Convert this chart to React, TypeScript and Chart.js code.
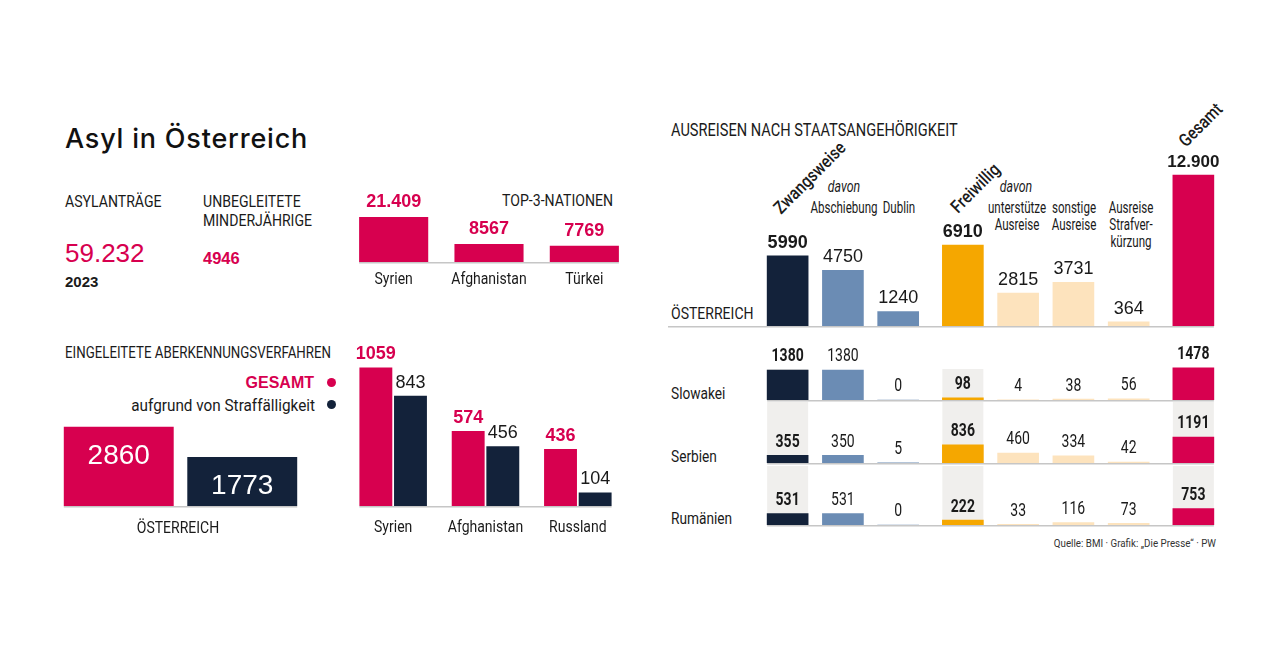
import React, { useEffect, useRef } from 'react';
import { Chart, registerables } from 'chart.js';

Chart.register(...registerables);

// ---------------- data ----------------
const asylantraegeTotal = 59232;
const asylYear = '2023';
const unbegleiteteMinderjaehrige = 4946;

const top3Countries = ['Syrien', 'Afghanistan', 'Türkei'];
const top3Values = [21409, 8567, 7769];

const aberkennungATLabels = ['GESAMT', 'aufgrund von Straffälligkeit'];
const aberkennungATValues = [2860, 1773];

const aberkennungCountries = ['Syrien', 'Afghanistan', 'Russland'];
const aberkennungGesamt = [1059, 574, 436];
const aberkennungStraf = [843, 456, 104];

const ausreiseCats = ['Zwangsweise', 'Abschiebung', 'Dublin', 'Freiwillig', 'unterstützte Ausreise', 'sonstige Ausreise', 'Ausreise Strafverkürzung', 'Gesamt'];
const ausreiseGroups = [0, 0, 0, 1, 1, 1, 1, 2];
const ausreiseAT = [5990, 4750, 1240, 6910, 2815, 3731, 364, 12900];
const rowCountries = ['Slowakei', 'Serbien', 'Rumänien'];
const ausreiseSlowakei = [1380, 1380, 0, 98, 4, 38, 56, 1478];
const ausreiseSerbien = [355, 350, 5, 836, 460, 334, 42, 1191];
const ausreiseRumaenien = [531, 531, 0, 222, 33, 116, 73, 753];

// ---------------- style ----------------
const C = {
  crimson: '#d7004f',
  navy: '#13223a',
  steel: '#6b8cb4',
  orange: '#f5a700',
  peach: '#fde3bd',
  bg: '#f0efed',
  text: '#1a1a1a',
  line: '#c6c6c6',
};
const colColors = [C.navy, C.steel, C.steel, C.orange, C.peach, C.peach, C.peach, C.crimson];
const boldCols = [0, 3, 7];
const COND = "Roboto, 'Noto Sans', sans-serif";
const NUM = "'Liberation Sans', Arial, sans-serif";
const TITLE = "Inter, 'Noto Sans', sans-serif";
const GROUP_GAP = 0.17;

const fmt = (v: number) => (v >= 10000 ? String(v).replace(/\B(?=(\d{3})+(?!\d))/g, '.') : String(v));
const colPos = (i: number) => i + ausreiseGroups[i] * GROUP_GAP;

type Annot = {
  labels?: { font: (d: number, i: number) => string; color: (d: number, i: number) => string; offset: number; inside?: boolean; k?: number };
  cats?: { texts: string[]; font: string; color: string; offset: number; k?: number };
  baseline?: { color: string; width: number; fromPx?: number };
  bg?: { cols: number[]; color: string; topPx: number };
};

const drawText = (ctx: CanvasRenderingContext2D, t: string, x: number, y: number, k = 1) => {
  const w = ctx.measureText(t).width;
  ctx.fillText(t, x, y, w * k);
};

const makeAnnot = (a: Annot) => ({
  id: 'annot',
  beforeDatasetsDraw(chart: any) {
    const ctx = chart.ctx;
    const metas = chart.getSortedVisibleDatasetMetas();
    const bottom = chart.scales.y.getPixelForValue(0);
    if (a.bg) {
      ctx.save();
      ctx.fillStyle = a.bg.color;
      const els = metas[0].data;
      for (const i of a.bg.cols) {
        const p = els[i].getProps(['x', 'width'], true);
        ctx.fillRect(p.x - p.width / 2, a.bg.topPx, p.width, bottom - a.bg.topPx);
      }
      ctx.restore();
    }
    if (a.baseline) {
      let minX = Infinity;
      let maxX = -Infinity;
      metas.forEach((m: any) =>
        m.data.forEach((el: any) => {
          const p = el.getProps(['x', 'width'], true);
          minX = Math.min(minX, p.x - p.width / 2);
          maxX = Math.max(maxX, p.x + p.width / 2);
        })
      );
      if (a.baseline.fromPx != null) minX = a.baseline.fromPx;
      ctx.save();
      ctx.strokeStyle = a.baseline.color;
      ctx.lineWidth = a.baseline.width;
      ctx.beginPath();
      ctx.moveTo(minX, bottom + a.baseline.width / 2);
      ctx.lineTo(maxX, bottom + a.baseline.width / 2);
      ctx.stroke();
      ctx.restore();
    }
  },
  afterDatasetsDraw(chart: any) {
    const ctx = chart.ctx;
    const bottom = chart.scales.y.getPixelForValue(0);
    ctx.save();
    ctx.textAlign = 'center';
    ctx.textBaseline = 'middle';
    if (a.labels) {
      const L = a.labels;
      chart.getSortedVisibleDatasetMetas().forEach((m: any) => {
        const d = m.index;
        m.data.forEach((el: any, i: number) => {
          const raw = chart.data.datasets[d].data[i];
          const v = typeof raw === 'object' ? raw.y : raw;
          const p = el.getProps(['x', 'y'], true);
          ctx.font = L.font(d, i);
          ctx.fillStyle = L.color(d, i);
          drawText(ctx, fmt(v), p.x, L.inside ? p.y + L.offset : p.y - L.offset, L.k ?? 1);
        });
      });
    }
    if (a.cats) {
      ctx.font = a.cats.font;
      ctx.fillStyle = a.cats.color;
      a.cats.texts.forEach((t, i) => {
        drawText(ctx, t, chart.scales.x.getPixelForValue(i), bottom + a.cats!.offset, a.cats!.k ?? 1);
      });
    }
    ctx.restore();
  },
});

const baseOptions = (padding: any, yMax: number, x: any = {}) => ({
  responsive: false,
  animation: false as const,
  layout: { padding },
  plugins: { legend: { display: false }, tooltip: { enabled: false } },
  scales: {
    x: { display: false, ...x },
    y: { display: false, min: 0, max: yMax },
  },
});

// ---------------- chart configs ----------------
const catFont = `16.5px ${COND}`;

const top3Config = () => ({
  type: 'bar',
  data: {
    labels: top3Countries,
    datasets: [{ data: top3Values, backgroundColor: C.crimson, barPercentage: 0.725, categoryPercentage: 1 }],
  },
  options: baseOptions({ top: 18, bottom: 33, left: 0, right: 0 }, 28000),
  plugins: [
    makeAnnot({
      labels: { font: () => `700 18px ${NUM}`, color: () => C.crimson, offset: 15 },
      cats: { texts: top3Countries, font: catFont, color: C.text, offset: 18, k: 0.85 },
      baseline: { color: C.line, width: 1.5 },
    }),
  ],
});

const aberkATConfig = () => ({
  type: 'bar',
  data: {
    labels: aberkennungATLabels,
    datasets: [{ data: aberkennungATValues, backgroundColor: [C.crimson, C.navy], barPercentage: 0.89, categoryPercentage: 1 }],
  },
  options: baseOptions({ top: 3, bottom: 34, left: 0, right: 0 }, 3000),
  plugins: [
    makeAnnot({
      labels: { font: () => `400 28px ${NUM}`, color: () => '#ffffff', offset: 29, inside: true },
      baseline: { color: C.line, width: 1.5 },
    }),
  ],
});

const aberkCountriesConfig = () => ({
  type: 'bar',
  data: {
    labels: aberkennungCountries,
    datasets: [
      { data: aberkennungGesamt, backgroundColor: C.crimson, barPercentage: 0.95, categoryPercentage: 0.75 },
      { data: aberkennungStraf, backgroundColor: C.navy, barPercentage: 0.95, categoryPercentage: 0.75 },
    ],
  },
  options: baseOptions({ top: 9, bottom: 34, left: 0, right: 0 }, 1200),
  plugins: [
    makeAnnot({
      labels: {
        font: (d) => (d === 0 ? `700 18px ${NUM}` : `400 18px ${NUM}`),
        color: (d) => (d === 0 ? C.crimson : C.text),
        offset: 13,
      },
      cats: { texts: aberkennungCountries, font: catFont, color: C.text, offset: 22, k: 0.85 },
      baseline: { color: C.line, width: 1.5 },
    }),
  ],
});

const ausreiseX = { type: 'linear', offset: false, min: -0.5, max: colPos(ausreiseCats.length - 1) + 0.5 };

const ausreiseATConfig = () => ({
  type: 'bar',
  data: {
    datasets: [
      {
        data: ausreiseAT.map((v, i) => ({ x: colPos(i), y: v })),
        backgroundColor: colColors,
        barThickness: 41,
      },
    ],
  },
  options: baseOptions({ top: 28, bottom: 9, left: 100, right: 0 }, 13500, ausreiseX),
  plugins: [
    makeAnnot({
      labels: {
        font: (_d, i) => (i === 7 ? `700 17px ${NUM}` : boldCols.includes(i) ? `700 18px ${NUM}` : `400 18px ${NUM}`),
        color: () => C.text,
        offset: 13,
      },
      baseline: { color: C.line, width: 1.5, fromPx: 8 },
    }),
  ],
});

const rowConfig = (values: number[], pad: { top: number; bottom: number }, bgTop: number) => () => ({
  type: 'bar',
  data: {
    datasets: [
      {
        data: values.map((v, i) => ({ x: colPos(i), y: v })),
        backgroundColor: colColors,
        barThickness: 41,
      },
    ],
  },
  options: baseOptions({ top: pad.top, bottom: pad.bottom, left: 0, right: 0 }, 2300, ausreiseX),
  plugins: [
    makeAnnot({
      labels: {
        font: (_d, i) => (boldCols.includes(i) ? `700 17.5px ${COND}` : `400 17.5px ${COND}`),
        color: () => C.text,
        offset: 13,
        k: 0.8,
      },
      baseline: { color: C.line, width: 1.5 },
      bg: { cols: boldCols, color: C.bg, topPx: bgTop },
    }),
  ],
});

// ---------------- components ----------------
function ChartBox({ left, top, width, height, config }: any) {
  const ref = useRef<HTMLCanvasElement>(null);
  useEffect(() => {
    const chart = new Chart(ref.current as HTMLCanvasElement, config() as any);
    return () => chart.destroy();
  }, []);
  return (
    <canvas
      ref={ref}
      width={width}
      height={height}
      style={{ position: 'absolute', left, top, width, height }}
    />
  );
}

function T({ x, y, a = 'l', k = 1, s, children }: any) {
  const tx = a === 'l' ? '0' : a === 'c' ? '-50%' : '-100%';
  const origin = a === 'l' ? 'left center' : a === 'c' ? 'center center' : 'right center';
  return (
    <div
      style={{
        position: 'absolute',
        left: x,
        top: y,
        transform: `translate(${tx},-50%) scaleX(${k})`,
        transformOrigin: origin,
        whiteSpace: 'nowrap',
        lineHeight: 1,
        color: C.text,
        fontFamily: COND,
        fontSize: 16,
        ...s,
      }}
    >
      {children}
    </div>
  );
}

function R({ x, y, k = 0.85, children }: any) {
  return (
    <div
      style={{
        position: 'absolute',
        left: x,
        top: y,
        transformOrigin: '0 0',
        transform: `rotate(-45deg) translateY(-84%) scaleX(${k})`,
        whiteSpace: 'nowrap',
        lineHeight: 1,
        color: C.text,
        fontFamily: COND,
        fontWeight: 500,
        fontSize: 18,
      }}
    >
      {children}
    </div>
  );
}

function Dot({ x, y, color }: any) {
  return (
    <div
      style={{
        position: 'absolute',
        left: x - 4.5,
        top: y - 4.5,
        width: 9,
        height: 9,
        borderRadius: 5,
        background: color,
      }}
    />
  );
}

export default function App() {
  const hdr = { fontSize: 16.5 };
  const rowLbl = { fontSize: 16.5 };
  return (
    <div style={{ position: 'absolute', left: 0, top: 0, width: 1280, height: 669, background: '#fff', overflow: 'hidden' }}>
      {/* left top */}
      <T x={65} y={137.5} s={{ fontFamily: TITLE, fontSize: 27, fontWeight: 500, letterSpacing: 0.8, color: '#111' }}>Asyl in Österreich</T>
      <T x={65} y={201.7} k={0.88}>ASYLANTRÄGE</T>
      <T x={65} y={252.5} s={{ fontFamily: NUM, fontSize: 26, color: C.crimson }}>{fmt(asylantraegeTotal)}</T>
      <T x={65} y={280.5} s={{ fontFamily: NUM, fontSize: 15, fontWeight: 700 }}>{asylYear}</T>
      <T x={203} y={201.7} k={0.88}>UNBEGLEITETE</T>
      <T x={203} y={221} k={0.88}>MINDERJÄHRIGE</T>
      <T x={203} y={257.5} s={{ fontFamily: NUM, fontSize: 16.5, fontWeight: 700, color: C.crimson }}>{fmt(unbegleiteteMinderjaehrige)}</T>
      <T x={613} y={201.3} a="r" k={0.88}>TOP-3-NATIONEN</T>
      <ChartBox left={346} top={185} width={286} height={110} config={top3Config} />

      {/* left bottom */}
      <T x={65} y={353} k={0.83}>EINGELEITETE ABERKENNUNGSVERFAHREN</T>
      <T x={314} y={382.5} a="r" s={{ fontFamily: NUM, fontWeight: 700, color: C.crimson, fontSize: 16 }}>{aberkennungATLabels[0]}</T>
      <Dot x={331.5} y={382.5} color={C.crimson} />
      <T x={315} y={404.5} a="r" k={0.9} s={{ fontSize: 17 }}>{aberkennungATLabels[1]}</T>
      <Dot x={331.5} y={404.5} color={C.navy} />
      <ChartBox left={57} top={420} width={247} height={120} config={aberkATConfig} />
      <T x={178} y={527.5} a="c" k={0.85} s={hdr}>ÖSTERREICH</T>
      <ChartBox left={347} top={340} width={277} height={200} config={aberkCountriesConfig} />

      {/* right */}
      <T x={671} y={129.5} k={0.81} s={{ fontSize: 18 }}>AUSREISEN NACH STAATSANGEHÖRIGKEIT</T>
      <R x={781} y={215}>{ausreiseCats[0]}</R>
      <R x={958} y={214}>{ausreiseCats[3]}</R>
      <R x={1186} y={148}>{ausreiseCats[7]}</R>
      <T x={844} y={187} a="c" k={0.75} s={{ ...hdr, fontStyle: 'italic' }}>davon</T>
      <T x={844} y={207.5} a="c" k={0.7} s={hdr}>Abschiebung</T>
      <T x={899} y={207.5} a="c" k={0.7} s={hdr}>Dublin</T>
      <T x={1016} y={187} a="c" k={0.75} s={{ ...hdr, fontStyle: 'italic' }}>davon</T>
      <T x={1017} y={207.5} a="c" k={0.7} s={hdr}>unterstütze</T>
      <T x={1017} y={224.5} a="c" k={0.7} s={hdr}>Ausreise</T>
      <T x={1074} y={207.5} a="c" k={0.7} s={hdr}>sonstige</T>
      <T x={1074} y={224.5} a="c" k={0.7} s={hdr}>Ausreise</T>
      <T x={1131} y={207.5} a="c" k={0.7} s={hdr}>Ausreise</T>
      <T x={1131} y={224.5} a="c" k={0.7} s={hdr}>Strafver-</T>
      <T x={1131} y={242} a="c" k={0.7} s={hdr}>kürzung</T>
      <T x={671} y={314} k={0.85} s={hdr}>ÖSTERREICH</T>
      <ChartBox left={660} top={140} width={561} height={195} config={ausreiseATConfig} />

      <T x={671} y={394} k={0.83} s={rowLbl}>{rowCountries[0]}</T>
      <T x={671} y={457} k={0.83} s={rowLbl}>{rowCountries[1]}</T>
      <T x={671} y={519} k={0.83} s={rowLbl}>{rowCountries[2]}</T>
      <ChartBox left={760} top={338} width={461} height={64} config={rowConfig(ausreiseSlowakei, { top: 12, bottom: 2 }, 31)} />
      <ChartBox left={760} top={402} width={461} height={63} config={rowConfig(ausreiseSerbien, { top: 11, bottom: 2 }, 0)} />
      <ChartBox left={760} top={466} width={461} height={61} config={rowConfig(ausreiseRumaenien, { top: 9, bottom: 2 }, 0)} />
      <T x={1216} y={544} a="r" k={0.85} s={{ fontSize: 11.5, color: '#333' }}>Quelle: BMI · Grafik: „Die Presse“ · PW</T>
    </div>
  );
}
